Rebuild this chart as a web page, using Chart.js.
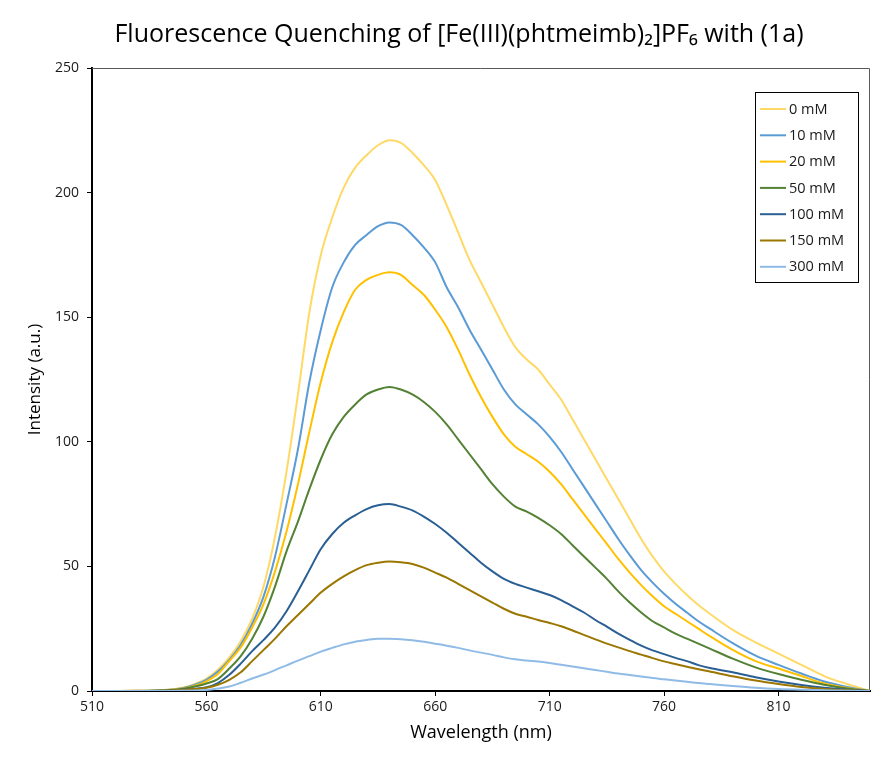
<!DOCTYPE html>
<html>
<head>
<meta charset="utf-8">
<script src="https://cdn.jsdelivr.net/npm/chart.js@4/dist/chart.umd.min.js"></script>
<style>
  html, body { margin: 0; padding: 0; background: #fff; }
  #wrap { width: 893px; height: 758px; position: relative; }
</style>
</head>
<body>
<div id="wrap"><canvas id="c" width="893" height="758"></canvas></div>
<script>
// ---- DATA ----
const titleText = "Fluorescence Quenching of [Fe(III)(phtmeimb)\u2082]PF\u2086 with (1a)";
const xAxisTitle = "Wavelength (nm)";
const yAxisTitle = "Intensity (a.u.)";
const xTicks = [510, 560, 610, 660, 710, 760, 810];
const yTicks = [0, 50, 100, 150, 200, 250];

const wavelengths = [510,520,530,540,545,550,555,560,565,570,
  575,580,585,590,595,600,605,610,615,620,
  625,630,635,640,645,650,655,660,665,670,
  675,680,685,690,695,700,705,710,715,720,
  725,730,735,740,745,750,755,760,765,770,
  775,780,790,800,810,820,830,840,850];

const seriesLabels = ["0 mM", "10 mM", "20 mM", "50 mM", "100 mM", "150 mM", "300 mM"];
const seriesColors = ["#FFD966", "#5B9BD5", "#FFC000", "#548235", "#2A5F94", "#9B7600", "#8FBBE6"];

const i0mM = [0,0,0.1,0.3,0.7,1.4,2.8,5,8.5,13.5,
  20,29,42,62,88,119,152,175,190,202,
  210,215,219,221,220,216,211,205,195,184,
  173,164,155,146,138,133,129,123,117,109,
  101,93,85,77,69,61,54,48,43,38.5,
  34.5,31,24.5,19.5,15,10.5,6,2.8,0];
const i10mM = [0,0,0.1,0.3,0.6,1.2,2.5,4.5,7.8,12.5,
  18.5,27,38,54,75,97,124,145,162,172,
  179,183,186.5,188,187,183,178,172,162,154,
  145,137,129,121,115,111,107,102,96,89,
  82,75,68,61,54.5,48.5,43.5,39,35,31.5,
  28,25,19.2,14.2,10.5,7,3.8,1.6,0];
const i20mM = [0,0,0.1,0.2,0.5,1,2.1,3.9,6.8,12,
  17.5,25.5,35,48,64,83,104,124,140,152,
  161,165,167,168,167,163,159,153,146,137,
  127,118,110,103,98,95,92,88,83,77,
  71,65,59,53,47.5,42.5,38,34,31,28,
  25,22,16.5,12,9,6,3,1.2,0];
const i50mM = [0,0,0,0.1,0.4,0.9,1.8,3,4.8,9,
  14,21,30,42,56,68,81,93,103,110,
  115,119,121,122,121,119,116,112,107,101,
  95,89,83,78,74,72,69.5,66.5,63,58.5,
  54,49.5,45,40,35.5,31.5,28,25.5,23,21,
  19,17,13,9.5,6.8,4.5,2.5,1,0];
const i100mM = [0,0,0,0.1,0.2,0.5,0.9,1.5,3.2,6.5,
  11,16,20.5,25.5,32,40,48.5,57,63,67.5,
  70.5,73,74.5,75,74,72.5,70,67,63.5,59.5,
  55.5,51.5,48,45,43,41.5,40,38.5,36.5,34,
  31.5,28.5,25.8,23,20.5,18.2,16.3,14.8,13.3,12,
  10.4,9.2,7.5,5.5,3.8,2.4,1.3,0.5,0];
const i150mM = [0,0,0,0.1,0.2,0.4,0.8,1.3,2.5,4.5,
  7.5,12,16.5,21,26,30.5,35,39.5,43,46,
  48.5,50.5,51.5,52,51.7,51,49.5,47.5,45.5,43,
  40.5,38,35.5,33,31,29.8,28.5,27.3,26,24.3,
  22.5,20.7,19,17.5,16,14.6,13.2,11.9,10.8,9.7,
  8.7,7.8,5.9,4.2,2.8,1.6,0.8,0.3,0];
const i300mM = [0,0,0,0,0,0.1,0.2,0.4,1,1.8,
  3.3,5,6.6,8.4,10.3,12.2,14,15.8,17.3,18.7,
  19.8,20.5,21,21,20.8,20.4,19.8,19,18.2,17.3,
  16.3,15.4,14.5,13.5,12.7,12.2,11.8,11.2,10.5,9.8,
  9.1,8.4,7.7,7,6.4,5.8,5.2,4.7,4.2,3.7,
  3.2,2.8,2,1.3,0.8,0.5,0.3,0.1,0];

const seriesValues = [i0mM, i10mM, i20mM, i50mM, i100mM, i150mM, i300mM];

// ---- CHART ----
const FONT = "'Open Sans', 'Noto Sans', 'DejaVu Sans', sans-serif";
Chart.defaults.font.family = FONT;
Chart.defaults.color = '#1a1a1a';

const datasets = seriesLabels.map((label, k) => ({
  label: label,
  data: wavelengths.map((w, i) => ({ x: w, y: seriesValues[k][i] })),
  borderColor: seriesColors[k],
  backgroundColor: seriesColors[k],
  borderWidth: 2,
  pointRadius: 0,
  fill: false,
  cubicInterpolationMode: 'monotone',
  order: seriesLabels.length - k
}));

const framePlugin = {
  id: 'frame',
  beforeDatasetsDraw(chart) {
    const { ctx, chartArea: a } = chart;
    ctx.save();
    ctx.strokeStyle = '#595959';
    ctx.lineWidth = 1;
    ctx.beginPath();
    ctx.moveTo(a.left, a.top + 0.5);
    ctx.lineTo(a.right - 0.5, a.top + 0.5);
    ctx.lineTo(a.right - 0.5, a.bottom);
    ctx.stroke();
    ctx.restore();
  }
};

const legendPlugin = {
  id: 'boxLegend',
  afterDatasetsDraw(chart) {
    const { ctx, chartArea: a } = chart;
    const w = 103, h = 190;
    const x0 = a.right - 12 - w, y0 = a.top + 24;
    ctx.save();
    ctx.fillStyle = '#fff';
    ctx.fillRect(x0, y0, w, h);
    ctx.strokeStyle = '#000';
    ctx.lineWidth = 1;
    ctx.strokeRect(x0 + 0.5, y0 + 0.5, w, h);
    ctx.font = "14.5px " + FONT;
    ctx.textBaseline = 'middle';
    ctx.textAlign = 'left';
    chart.data.datasets.forEach((ds, i) => {
      const y = y0 + 17 + i * 26.3;
      ctx.strokeStyle = ds.borderColor;
      ctx.lineWidth = 2;
      ctx.beginPath();
      ctx.moveTo(x0 + 5, y);
      ctx.lineTo(x0 + 31, y);
      ctx.stroke();
      ctx.fillStyle = '#1a1a1a';
      ctx.fillText(ds.label, x0 + 34, y + 0.5);
    });
    ctx.restore();
  }
};

new Chart(document.getElementById('c'), {
  type: 'line',
  data: { datasets },
  plugins: [framePlugin, legendPlugin],
  options: {
    responsive: false,
    animation: false,
    events: [],
    layout: { padding: { left: 25, right: 0, top: 0, bottom: 0 } },
    plugins: {
      legend: { display: false },
      tooltip: { enabled: false },
      title: {
        display: true,
        text: titleText,
        color: '#000',
        font: { size: 25, weight: 'normal', family: FONT, lineHeight: 1.2 },
        padding: { top: 20, bottom: 18 }
      }
    },
    scales: {
      x: {
        type: 'linear',
        min: 510,
        max: 850,
        afterBuildTicks: (s) => { s.ticks = xTicks.map(v => ({ value: v })); },
        afterFit: (s) => { s.height = 67; },
        grid: { display: true, drawOnChartArea: false, drawTicks: true, tickLength: 5, tickColor: '#000', tickWidth: 1 },
        border: { display: true, color: '#000', width: 2 },
        ticks: { font: { size: 14 }, color: '#1a1a1a', padding: 3, maxRotation: 0, autoSkip: false },
        title: { display: true, text: xAxisTitle, font: { size: 18 }, color: '#000', padding: { top: 0, bottom: 14 } }
      },
      y: {
        type: 'linear',
        min: 0,
        max: 250,
        afterBuildTicks: (s) => { s.ticks = yTicks.map(v => ({ value: v })); },
        afterFit: (s) => { s.width = 67; },
        grid: { display: true, drawOnChartArea: false, drawTicks: true, tickLength: 5, tickColor: '#000', tickWidth: 1 },
        border: { display: true, color: '#000', width: 2 },
        ticks: { font: { size: 14 }, color: '#1a1a1a', padding: 8, autoSkip: false },
        title: { display: true, text: yAxisTitle, font: { size: 17 }, color: '#000', padding: { top: 0, bottom: 0 } }
      },
      yRightSpace: {
        type: 'linear',
        position: 'right',
        display: true,
        min: 0,
        max: 250,
        afterFit: (s) => { s.width = 23; },
        grid: { display: false, drawTicks: false },
        border: { display: false },
        ticks: { display: false },
        title: { display: false }
      }
    }
  }
});
</script>
</body>
</html>
